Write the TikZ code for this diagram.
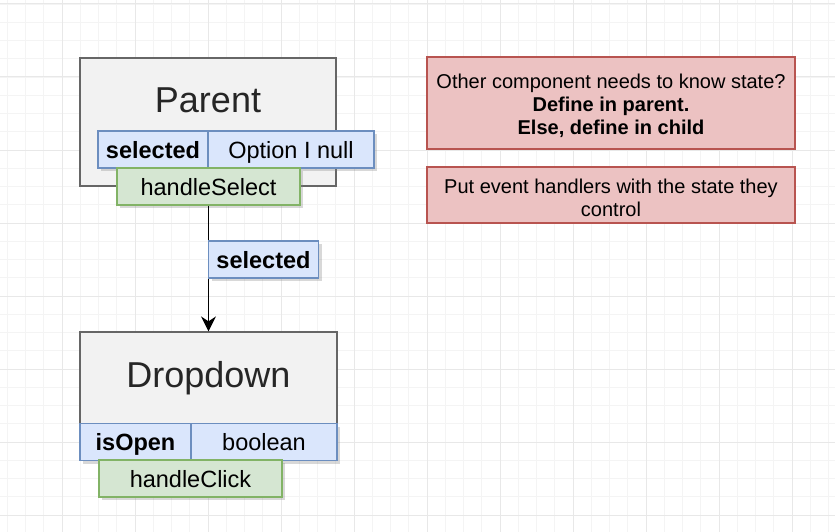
\documentclass[tikz,border=0pt]{standalone}
\usepackage{fontspec}
\setmainfont{Liberation Sans}
\usetikzlibrary{arrows.meta,positioning,shadows}
\definecolor{gridmajor}{RGB}{232,232,232}
\definecolor{gridminor}{RGB}{244,244,244}
\definecolor{compfill}{RGB}{242,242,242}
\definecolor{compdraw}{RGB}{102,102,102}
\definecolor{propfill}{RGB}{218,230,252}
\definecolor{propdraw}{RGB}{108,142,191}
\definecolor{fnfill}{RGB}{213,230,210}
\definecolor{fndraw}{RGB}{130,179,102}
\definecolor{notefill}{RGB}{236,194,194}
\definecolor{notedraw}{RGB}{184,84,80}
\tikzstyle{arrow} = [line width=1.3pt,-{Stealth[length=15pt,width=15pt,inset=5pt]},color=black]

\begin{document}
\begin{tikzpicture}[x=1pt,y=-1pt,
    comp/.style={rectangle, draw=compdraw, fill=compfill, line width=1.2pt, inner sep=0pt},
    title/.style={font=\fontsize{36}{43}\selectfont, text=black!85, anchor=base},
    cell/.style={rectangle, draw=propdraw, fill=propfill, line width=1.2pt, inner sep=0pt,
        minimum height=37pt, text height=19.5pt, text depth=2.5pt, font=\fontsize{23.5}{28}\selectfont,
        drop shadow={shadow xshift=3pt, shadow yshift=-3pt, opacity=0.3}},
    fn/.style={cell, draw=fndraw, fill=fnfill},
    note/.style={rectangle, draw=notedraw, fill=notefill, line width=1.2pt, inner sep=0pt,
        align=center, font=\fontsize{20}{23}\selectfont}
]
\useasboundingbox[fill=white] (0,0) rectangle (835,532);

% background grid
\foreach \i in {0,...,45} \draw[gridminor, line width=0.8pt] ({7.25+18.25*\i},0) -- ({7.25+18.25*\i},532);
\foreach \i in {0,...,29} \draw[gridminor, line width=0.8pt] (0,{4+18.25*\i}) -- (835,{4+18.25*\i});
\foreach \i in {0,...,11} \draw[gridmajor, line width=1pt] ({-11+73*\i},0) -- ({-11+73*\i},532);
\foreach \i in {0,...,7} \draw[gridmajor, line width=1pt] (0,{4+73*\i}) -- (835,{4+73*\i});

% Parent component
\node[comp, minimum width=256pt, minimum height=128pt] (parent) at (208,122) {};
\node[title] (parenttitle) at (208,113) {Parent};
\node[cell, minimum width=110pt] (selkey) at (153,149.5) {\textbf{selected}};
\node[cell, minimum width=166pt] (seltype) at (291,149.5) {Option I null};
\node[fn, minimum width=183pt] (handleselect) at (208.5,186.5) {handleSelect};

% Dropdown component
\node[comp, minimum width=257pt, minimum height=128pt] (dropdown) at (208.5,396) {};
\node[title] (dropdowntitle) at (208.5,387) {Dropdown};
\node[cell, minimum width=111pt] (openkey) at (135.5,442) {\textbf{isOpen}};
\node[cell, minimum width=146pt] (opentype) at (264,442) {boolean};
\node[fn, minimum width=183pt] (handleclick) at (190.5,478.5) {handleClick};

% prop passed down
\draw[arrow] (handleselect.south) -- (dropdown.north);
\node[cell, minimum width=110pt] (selprop) at (263.5,259.5) {\textbf{selected}};

% rules
\node[note, minimum width=368pt, minimum height=92pt] (rulestate) at (611,103)
    {\rule{0pt}{20pt}Other component needs to know state?\\ \textbf{Define in parent.}\\ \textbf{Else, define in child}};
\node[note, minimum width=368pt, minimum height=56pt] (rulehandler) at (611,195)
    {\rule{0pt}{20pt}Put event handlers with the state they\\ control};
\end{tikzpicture}
\end{document}
